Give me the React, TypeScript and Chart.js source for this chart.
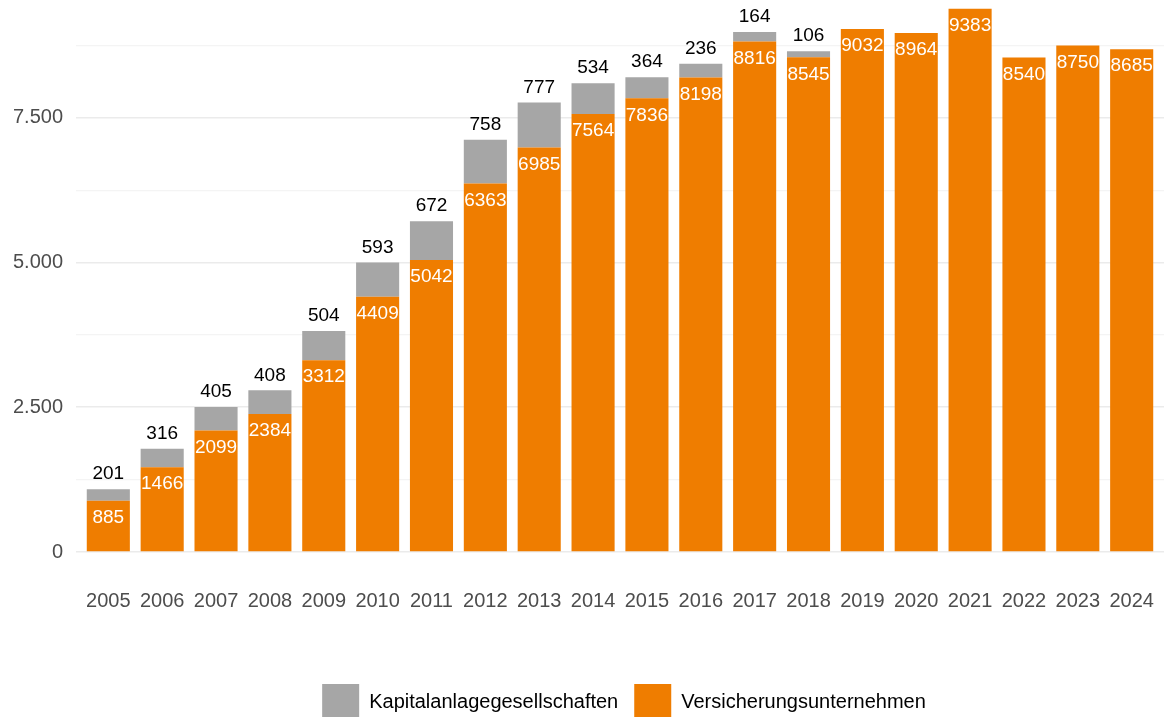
import React, { useEffect, useRef } from "react";
import { Chart, registerables } from "chart.js";

Chart.register(...registerables);

const years = ["2005","2006","2007","2008","2009","2010","2011","2012","2013","2014","2015","2016","2017","2018","2019","2020","2021","2022","2023","2024"];
const kapitalanlage: (number | null)[] = [201,316,405,408,504,593,672,758,777,534,364,236,164,106,null,null,null,null,null,null];
const versicherung: number[] = [885,1466,2099,2384,3312,4409,5042,6363,6985,7564,7836,8198,8816,8545,9032,8964,9383,8540,8750,8685];
const seriesNames = ["Kapitalanlagegesellschaften", "Versicherungsunternehmen"];
const yTicks = [0, 1250, 2500, 3750, 5000, 6250, 7500, 8750];
const yLabelStep = 2500;
const yMax = 9500;

const ORANGE = "#EF7D00";
const GRAY = "#A6A6A6";
const FONT = "'Liberation Sans', Arial, sans-serif";

const fmt = (v: number) => String(Math.round(v)).replace(/\B(?=(\d{3})+(?!\d))/g, ".");

const labelPlugin = {
  id: "valueLabels",
  afterDatasetsDraw(chart: any) {
    const ctx = chart.ctx;
    ctx.save();
    ctx.font = `19px ${FONT}`;
    ctx.textAlign = "center";
    ctx.textBaseline = "middle";
    chart.data.datasets.forEach((ds: any, di: number) => {
      const meta = chart.getDatasetMeta(di);
      meta.data.forEach((el: any, i: number) => {
        const raw = ds.data[i];
        const v = raw && typeof raw === "object" ? raw.y : raw;
        if (v === null || v === undefined) return;
        if (ds.label === seriesNames[1]) {
          ctx.fillStyle = "#ffffff";
          ctx.fillText(String(v), el.x, el.y + 17);
        } else {
          ctx.fillStyle = "#000000";
          ctx.fillText(String(v), el.x, el.y - 15);
        }
      });
    });
    ctx.restore();
  },
};

const legendShift = {
  id: "legendShift",
  afterLayout(chart: any) {
    const lg = chart.legend;
    if (lg && chart.chartArea) {
      lg.left = chart.chartArea.left + 4;
      lg.right = chart.chartArea.right + 4;
      lg.width = lg.right - lg.left;
    }
  },
};

export default function App() {
  const ref = useRef<HTMLCanvasElement | null>(null);
  useEffect(() => {
    if (!ref.current) return;
    const chart = new Chart(ref.current, {
      type: "bar",
      data: {
        datasets: [
          {
            label: seriesNames[1],
            data: versicherung.map((v, i) => ({ x: i, y: v })),
            backgroundColor: ORANGE,
            borderWidth: 0,
          },
          {
            label: seriesNames[0],
            data: kapitalanlage.map((v, i) => ({ x: i, y: v })),
            backgroundColor: GRAY,
            borderWidth: 0,
          },
        ],
      },
      options: {
        animation: false,
        responsive: true,
        maintainAspectRatio: false,
        datasets: { bar: { barPercentage: 0.8, categoryPercentage: 1 } },
        layout: { padding: { top: 2, right: 0, left: 0, bottom: 0 } },
        plugins: {
          tooltip: { enabled: false },
          legend: {
            position: "bottom",
            reverse: true,
            labels: {
              boxWidth: 37,
              boxHeight: 37,
              padding: 16,
              color: "#000000",
              font: { family: FONT, size: 20 },
            },
          },
        },
        scales: {
          x: {
            type: "linear",
            stacked: true,
            offset: false,
            min: -0.6,
            max: years.length - 0.4,
            grid: { display: false, offset: false },
            border: { display: false },
            afterFit: (s: any) => { s.height = 116; s.paddingLeft = 0; s.paddingRight = 0; },
            ticks: {
              stepSize: 1,
              includeBounds: false,
              autoSkip: false,
              maxRotation: 0,
              padding: 29,
              color: "#4d4d4d",
              font: { family: FONT, size: 20 },
              callback: (v: any) => (Number.isInteger(v) && years[v] ? years[v] : ""),
            },
          },
          y: {
            stacked: true,
            min: 0,
            max: yMax,
            afterFit: (s: any) => { s.width = 76; s.paddingTop = 0; s.paddingBottom = 0; },
            afterBuildTicks: (s: any) => { s.ticks = yTicks.map((v) => ({ value: v })); },
            border: { display: false },
            grid: {
              drawTicks: false,
              color: (c: any) => (c.tick && c.tick.value % yLabelStep === 0 ? "#EBEBEB" : "#F4F4F4"),
              lineWidth: (c: any) => (c.tick && c.tick.value % yLabelStep === 0 ? 1.6 : 1.2),
            },
            ticks: {
              padding: 13,
              color: "#4d4d4d",
              font: { family: FONT, size: 20 },
              callback: (v: any) => (v % yLabelStep === 0 ? fmt(v) : ""),
            },
          },
        },
      },
      plugins: [labelPlugin, legendShift],
    });
    return () => chart.destroy();
  }, []);
  return (
    <div style={{ position: "fixed", top: 0, left: 0, width: 1164, height: 731, background: "#fff" }}>
      <canvas ref={ref} />
    </div>
  );
}
